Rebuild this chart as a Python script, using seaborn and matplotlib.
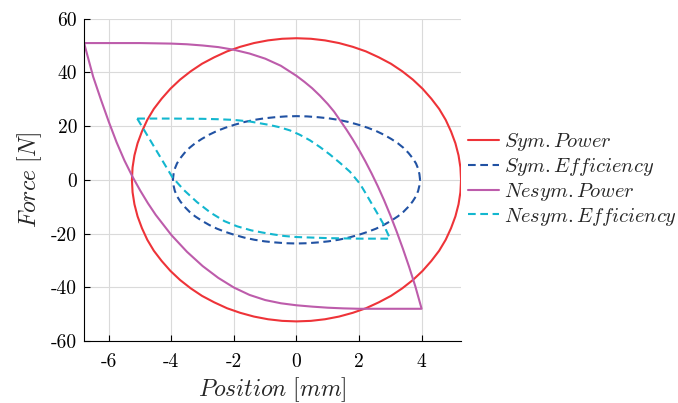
import matplotlib
matplotlib.use("Agg")
import matplotlib.pyplot as plt
import seaborn as sns
import pandas as pd

# ---------------- data ----------------
sym_power_x = [5.26, 5.24, 5.18, 5.08, 4.94, 4.77, 4.56, 4.31, 4.03, 3.72, 3.38, 3.02, 2.63, 2.22, 1.80, 1.36, 0.91, 0.46, 0.00,
               -0.46, -0.91, -1.36, -1.80, -2.22, -2.63, -3.02, -3.38, -3.72, -4.03, -4.31, -4.56, -4.77, -4.94, -5.08, -5.18, -5.24, -5.26,
               -5.24, -5.18, -5.08, -4.94, -4.77, -4.56, -4.31, -4.03, -3.72, -3.38, -3.02, -2.63, -2.22, -1.80, -1.36, -0.91, -0.46, 0.00,
               0.46, 0.91, 1.36, 1.80, 2.22, 2.63, 3.02, 3.38, 3.72, 4.03, 4.31, 4.56, 4.77, 4.94, 5.08, 5.18, 5.24, 5.26]
sym_power_y = [0.0, 4.6, 9.1, 13.6, 18.0, 22.3, 26.4, 30.2, 33.9, 37.3, 40.4, 43.2, 45.6, 47.8, 49.5, 50.9, 51.9, 52.5, 52.7,
               52.5, 51.9, 50.9, 49.5, 47.8, 45.6, 43.2, 40.4, 37.3, 33.9, 30.2, 26.4, 22.3, 18.0, 13.6, 9.1, 4.6, 0.0,
               -4.6, -9.1, -13.6, -18.0, -22.3, -26.4, -30.2, -33.9, -37.3, -40.4, -43.2, -45.6, -47.8, -49.5, -50.9, -51.9, -52.5, -52.7,
               -52.5, -51.9, -50.9, -49.5, -47.8, -45.6, -43.2, -40.4, -37.3, -33.9, -30.2, -26.4, -22.3, -18.0, -13.6, -9.1, -4.6, 0.0]

sym_eff_x = [3.95, 3.93, 3.89, 3.82, 3.71, 3.58, 3.42, 3.24, 3.03, 2.79, 2.54, 2.27, 1.98, 1.67, 1.35, 1.02, 0.69, 0.34, 0.00,
             -0.34, -0.69, -1.02, -1.35, -1.67, -1.98, -2.27, -2.54, -2.79, -3.03, -3.24, -3.42, -3.58, -3.71, -3.82, -3.89, -3.93, -3.95,
             -3.93, -3.89, -3.82, -3.71, -3.58, -3.42, -3.24, -3.03, -2.79, -2.54, -2.27, -1.98, -1.67, -1.35, -1.02, -0.69, -0.34, 0.00,
             0.34, 0.69, 1.02, 1.35, 1.67, 1.98, 2.27, 2.54, 2.79, 3.03, 3.24, 3.42, 3.58, 3.71, 3.82, 3.89, 3.93, 3.95]
sym_eff_y = [0.0, 2.1, 4.1, 6.1, 8.1, 10.0, 11.9, 13.6, 15.2, 16.8, 18.2, 19.4, 20.5, 21.5, 22.3, 22.9, 23.3, 23.6, 23.7,
             23.6, 23.3, 22.9, 22.3, 21.5, 20.5, 19.4, 18.2, 16.8, 15.2, 13.6, 11.9, 10.0, 8.1, 6.1, 4.1, 2.1, 0.0,
             -2.1, -4.1, -6.1, -8.1, -10.0, -11.9, -13.6, -15.2, -16.8, -18.2, -19.4, -20.5, -21.5, -22.3, -22.9, -23.3, -23.6, -23.7,
             -23.6, -23.3, -22.9, -22.3, -21.5, -20.5, -19.4, -18.2, -16.8, -15.2, -13.6, -11.9, -10.0, -8.1, -6.1, -4.1, -2.1, 0.0]

nesym_power_x = [-6.79, -6.0, -5.0, -4.5, -4.0, -3.5, -3.0, -2.5, -2.0, -1.5, -1.0, -0.5, 0.0,
                 0.25, 0.5, 0.75, 1.0, 1.2, 1.39, 1.6, 1.8, 2.0, 2.2, 2.4, 2.6, 2.8,
                 3.0, 3.2, 3.4, 3.6, 3.8, 4.0,
                 3.0, 2.0, 1.5, 1.0, 0.5, 0.0, -0.5, -1.0, -1.5, -2.0, -2.5, -3.0, -3.5,
                 -4.0, -4.5, -4.75, -5.0, -5.25, -5.5, -5.75, -6.0, -6.25, -6.5, -6.79]
nesym_power_y = [50.9, 50.9, 50.9, 50.8, 50.7, 50.45, 50.0, 49.4, 48.4, 47.0, 45.1, 42.45, 38.7,
                 36.5, 34.1, 31.3, 28.2, 25.4, 22.2, 18.65, 15.0, 11.1, 6.9, 2.4, -2.4, -7.6,
                 -13.2, -19.2, -25.6, -32.4, -39.7, -48.0,
                 -48.0, -48.0, -47.85, -47.6, -47.2, -46.7, -45.95, -44.75, -42.85, -40.1, -36.5, -32.1, -26.8,
                 -20.55, -13.05, -8.7, -3.9, 1.35, 7.2, 13.95, 21.6, 29.8, 38.4, 50.9]

nesym_eff_x = [-5.09, -4.0, -3.0, -2.5, -2.0, -1.49, -0.9, -0.55, -0.21, 0.1, 0.43, 0.75, 1.07, 1.4,
               1.71, 2.03, 2.2, 2.4, 2.6, 2.77, 2.99,
               2.5, 2.03, 1.5, 1.0, 0.5, 0.0, -0.4, -0.75, -1.1, -1.45, -1.9, -2.3, -2.75,
               -3.18, -3.6, -3.97, -5.09]
nesym_eff_y = [22.8, 22.8, 22.7, 22.55, 22.3, 21.7, 20.5, 19.6, 18.4, 16.8, 14.7, 12.2, 9.4, 6.2,
               3.0, -1.5, -4.8, -8.8, -12.8, -16.3, -21.9,
               -21.9, -21.9, -21.8, -21.7, -21.5, -21.3, -20.9, -20.3, -19.6, -18.8, -17.3, -15.4, -12.2,
               -8.3, -3.8, 1.0, 22.8]

labels = [r'$Sym.Power$', r'$Sym.Efficiency$', r'$Nesym.Power$', r'$Nesym.Efficiency$']
xticks = [-6, -4, -2, 0, 2, 4]
xtick_labels = ['-6', '-4', '-2', '0', '2', '4']
yticks = [-60, -40, -20, 0, 20, 40, 60]
ytick_labels = ['-60', '-40', '-20', '0', '20', '40', '60']

# ---------------- style ----------------
sns.set_theme(style="white")
plt.rcParams['font.family'] = ['cmr10', 'DejaVu Sans']
plt.rcParams['mathtext.fontset'] = 'cm'
plt.rcParams['axes.unicode_minus'] = False

fig = plt.figure(figsize=(6.78, 4.03), dpi=100)
ax = fig.add_axes([0.124, 0.1538, 0.556, 0.80])

series = [
    (sym_power_x, sym_power_y, '#ee3338', '-'),
    (sym_eff_x, sym_eff_y, '#2152a3', (0, (3.7, 2.2))),
    (nesym_power_x, nesym_power_y, '#bd5cab', '-'),
    (nesym_eff_x, nesym_eff_y, '#13b7cf', (0, (3.7, 2.2))),
]
for (xs, ys, col, ls), lab in zip(series, labels):
    df = pd.DataFrame({'x': xs, 'y': ys})
    sns.lineplot(data=df, x='x', y='y', sort=False, estimator=None,
                 color=col, lw=1.5, linestyle=ls, label=lab, ax=ax)

ax.set_xlim(-6.79, 5.26)
ax.set_ylim(-60, 60)
ax.set_xticks(xticks)
ax.set_xticklabels(xtick_labels)
ax.set_yticks(yticks)
ax.set_yticklabels(ytick_labels)
ax.grid(True, color='#dadada', lw=0.8)
ax.set_axisbelow(True)
for s in ['top', 'right']:
    ax.spines[s].set_visible(False)
for s in ['left', 'bottom']:
    ax.spines[s].set_color('black')
    ax.spines[s].set_linewidth(0.8)
ax.tick_params(axis='both', direction='in', length=4, width=0.8,
               labelsize=14, colors='black', left=True, bottom=True)
ax.tick_params(axis='x', pad=9)
ax.tick_params(axis='y', pad=5)
ax.set_xlabel(r'$Position\ [mm]$', fontsize=17, labelpad=3)
ax.set_ylabel(r'$Force\ [N]$', fontsize=17, labelpad=5)

ax.legend(loc='center left', bbox_to_anchor=(0.69, 0.555),
          bbox_transform=fig.transFigure, frameon=False, fontsize=14.7,
          handlelength=1.55, handletextpad=0.22, labelspacing=0.14,
          borderpad=0, borderaxespad=0)

fig.savefig('out.png', dpi=100)
